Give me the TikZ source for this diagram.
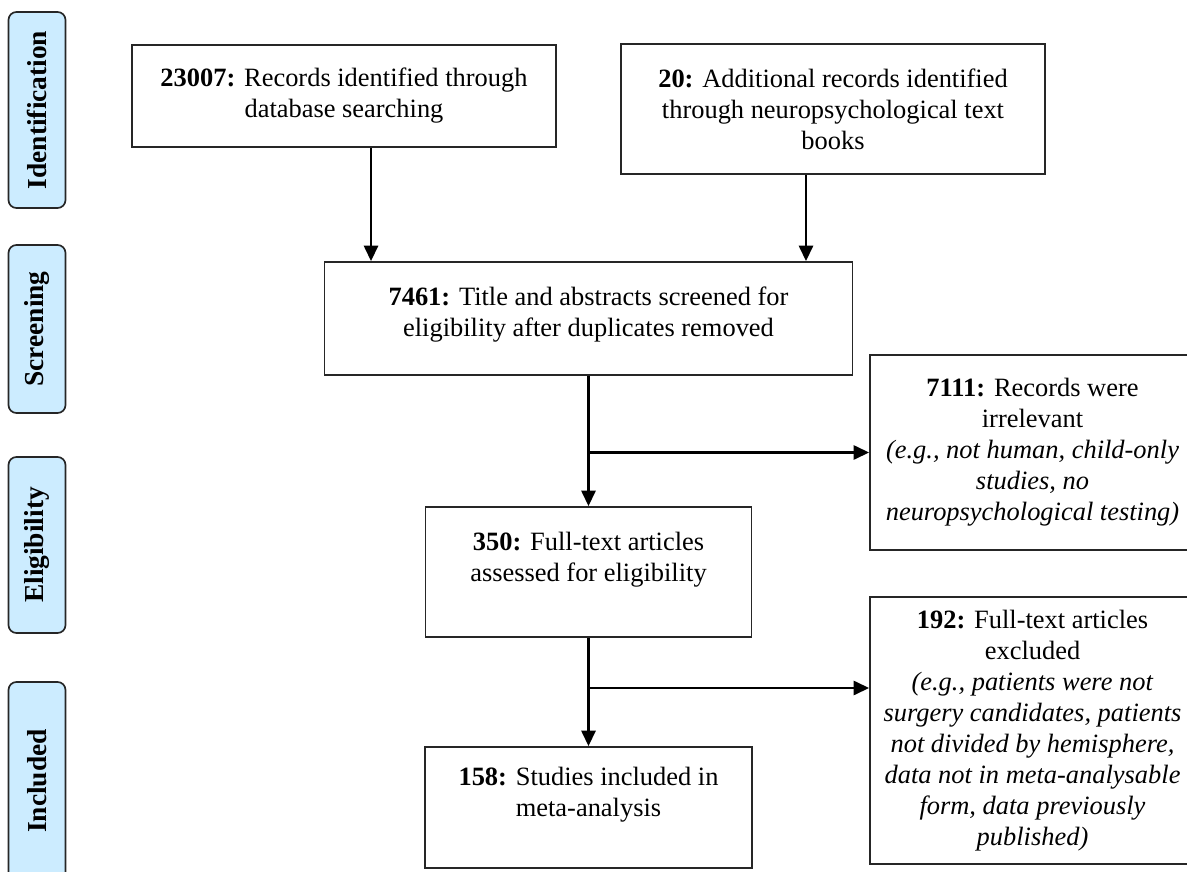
\documentclass[tikz,border=0pt]{standalone}
\usepackage{fontspec}
\setmainfont{Liberation Serif}
\usetikzlibrary{arrows.meta}

\definecolor{phaseblue}{RGB}{204,236,255}

\tikzset{
	box/.style = {draw = black!85, line width = 1.2pt, align = center, font = \fontsize{18.8}{22}\selectfont, inner sep = 2pt},
	phase/.style = {draw = black!85, line width = 1.2pt, rounded corners = 0.2cm, fill = phaseblue, rotate = 90, minimum height = 1.425cm, font = \fontsize{19.5}{22}\selectfont\bfseries},
	arrow/.style = {line width = 1.8pt, -{Triangle[length = 11pt, width = 10pt]}}
}

\begin{document}
\begin{tikzpicture}[x = 0.025cm, y = -0.025cm]
	\useasboundingbox (0, 0) rectangle (1187, 872);
	\clip (0, 0) rectangle (1187, 872);

	% Phases
	\node[phase, minimum width = 4.9cm] (id) at (37, 110) {Identification};
	\node[phase, minimum width = 4.2cm] (scr) at (37, 329) {Screening};
	\node[phase, minimum width = 4.4cm] (eli) at (37, 545) {Eligibility};
	\node[phase, minimum width = 4.95cm] (inc) at (37, 781) {Included};

	% Nodes
	\node[box, minimum width = 10.6cm, minimum height = 2.55cm] (b1) at (344, 96)
		{\textbf{23007:} Records identified through\\ database searching};
	\node[box, minimum width = 10.6cm, minimum height = 3.25cm] (b2) at (833, 109)
		{\textbf{20:} Additional records identified\\ through neuropsychological text\\ books};
	\node[box, minimum width = 13.2cm, minimum height = 2.825cm] (b3) at (588.5, 318.5)
		{\textbf{7461:} Title and abstracts screened for\\ eligibility after duplicates removed\\[-12pt]~};
	\node[box, minimum width = 8.125cm, minimum height = 4.875cm] (b4) at (1032.5, 452.5)
		{\textbf{7111:} Records were\\ irrelevant\\ \textit{(e.g., not human, child-only}\\ \textit{studies, no}\\ \textit{neuropsychological testing)}};
	\node[box, minimum width = 8.15cm, minimum height = 3.25cm] (b5) at (588.5, 572)
		{\textbf{350:} Full-text articles\\ assessed for eligibility\\ ~};
	\node[box, minimum width = 8.125cm, minimum height = 6.675cm] (b6) at (1032.5, 730.5)
		{\textbf{192:} Full-text articles\\ excluded\\ \textit{(e.g., patients were not}\\ \textit{surgery candidates, patients}\\ \textit{not divided by hemisphere,}\\ \textit{data not in meta-analysable}\\ \textit{form, data previously}\\ \textit{published)}};
	\node[box, minimum width = 8.175cm, minimum height = 3.025cm] (b7) at (588.5, 807.5)
		{\textbf{158:} Studies included in\\ meta-analysis\\ ~};
	\coordinate (j2) at (588.5, 688);

	% Edges
	\draw[arrow] ([xshift = 0.675cm]b1.south) -- ([xshift = 0.675cm]b1.south |- b3.north);
	\draw[arrow] ([xshift = -0.675cm]b2.south) -- ([xshift = -0.675cm]b2.south |- b3.north);
	\draw[arrow] (b3.south) -- (b5.north);
	\draw[arrow] (b3.south |- b4.west) -- (b4.west);
	\draw[arrow] (b5.south) -- (b7.north);
	\draw[arrow] (j2) -- (j2 -| b6.west);
\end{tikzpicture}
\end{document}
